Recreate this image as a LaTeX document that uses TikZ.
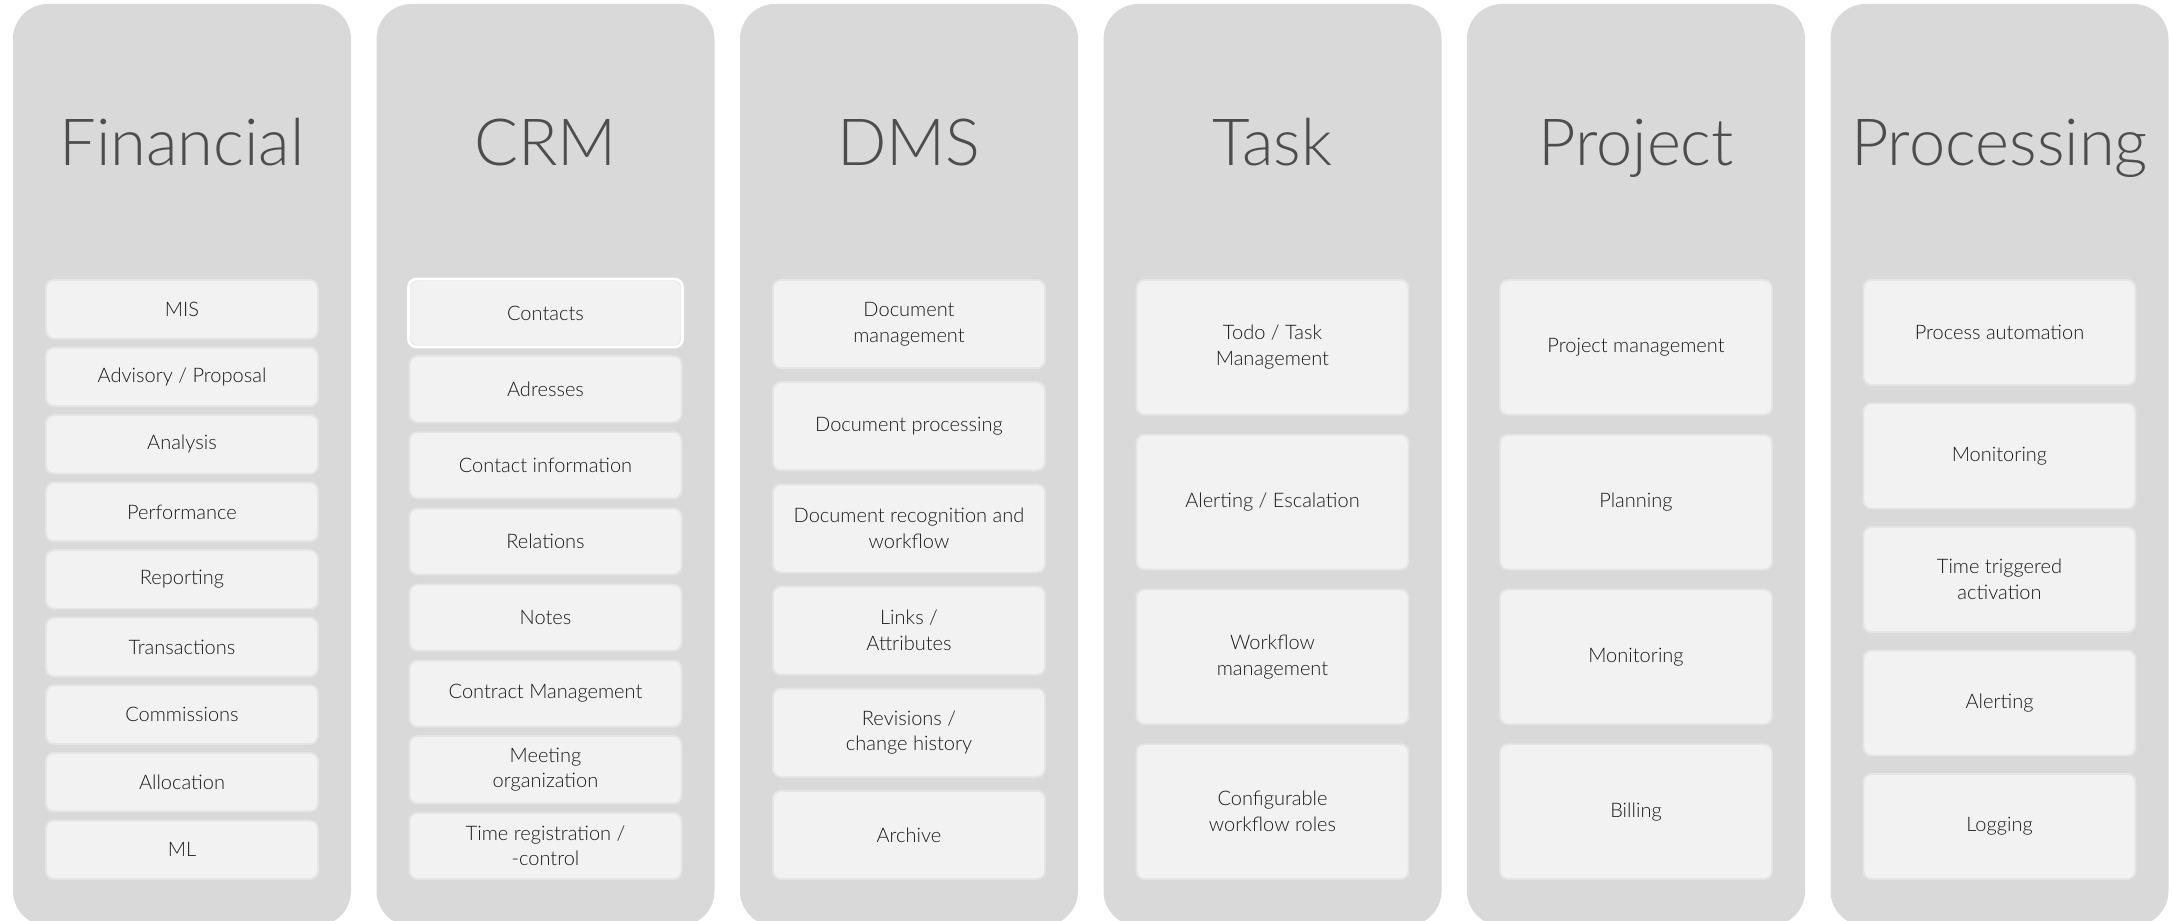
\documentclass[tikz,border=0pt]{standalone}
\usepackage{fontspec}
\setmainfont{Lato}[UprightFont={* Light}]
\usetikzlibrary{calc}
\definecolor{color_mod_bg}{HTML}{D9D9D9}
\definecolor{color_mod_box}{HTML}{F2F2F2}
\definecolor{color_mod_box_border}{HTML}{E5E5E5}
\definecolor{color_mod_title}{HTML}{4D4D4D}
\definecolor{color_mod_text}{HTML}{1A1A1A}
\def\modcolstart{13}
\def\modcolpitch{363.5}
\def\modcolwidth{338}
\def\modcoltop{4}
\def\modcolbottom{926}
\def\modcolradius{3.5mm}
\def\modtitlebase{166}
\def\modboxtop{280}
\def\modboxspan{599}
\def\modtitlesize{\fontsize{18.5}{22}\selectfont}
\def\moditemsize{\fontsize{5.7}{7.3}\selectfont}
\tikzset{
    modtitle/.style={anchor=base, text=color_mod_title, font=\modtitlesize, inner sep=0pt},
    modbox/.style={draw=color_mod_box_border, fill=color_mod_box, line width=0.55pt,
        rounded corners=0.8mm, minimum width=27.2mm, align=center,
        text=color_mod_text, font=\moditemsize}
}
% #1 name, #2 column index, #3 title, #4 number of boxes, #5 gap, #6 box labels
\newcommand{\modcolumn}[6]{%
    \pgfmathsetmacro{\colx}{\modcolstart+#2*\modcolpitch}
    \pgfmathsetmacro{\colmid}{\colx+\modcolwidth/2}
    \fill[color_mod_bg, rounded corners=\modcolradius] (\colx,\modcoltop) rectangle (\colx+\modcolwidth,\modcolbottom);
    \node[modtitle] (#1title) at (\colmid,\modtitlebase) {#3};
    \pgfmathsetmacro{\boxh}{(\modboxspan-(#4-1)*#5)/#4}
    \pgfmathsetmacro{\boxhpt}{\boxh*0.28453}
    \foreach \lbl [count=\i] in {#6} {
        \node[modbox, minimum height=\boxhpt pt] (#1\i) at (\colmid,{\modboxtop+(\i-1)*(\boxh+#5)+\boxh/2}) {\lbl};
    }
}

\begin{document}
\begin{tikzpicture}[x=0.1mm,y=-0.1mm]
        \clip (0,0) rectangle (2173,921);
        \modcolumn{fin}{0}{Financial}{9}{9}{MIS, Advisory / Proposal, Analysis, Performance, Reporting, Transactions, Commissions, Allocation, ML}
        \modcolumn{crm}{1}{CRM}{8}{10}{Contacts, Adresses, Contact information, Relations, Notes, Contract Management, Meeting\\organization, Time registration /\\-control}
        % selected box
        \draw[white, line width=0.8pt, rounded corners=0.8mm] (crm1.north west) rectangle (crm1.south east);
        \modcolumn{dms}{2}{DMS}{6}{14}{Document\\management, Document processing, Document recognition and\\workflow, Links /\\Attributes, Revisions /\\change history, Archive}
        \modcolumn{task}{3}{Task}{4}{20}{Todo / Task\\Management, Alerting / Escalation, Workflow\\management, Configurable\\workflow roles}
        \modcolumn{proj}{4}{Project}{4}{20}{Project management, Planning, Monitoring, Billing}
        \modcolumn{proc}{5}{Processing}{5}{18.5}{Process automation, Monitoring, Time triggered\\activation, Alerting, Logging}
    \end{tikzpicture}
\end{document}
